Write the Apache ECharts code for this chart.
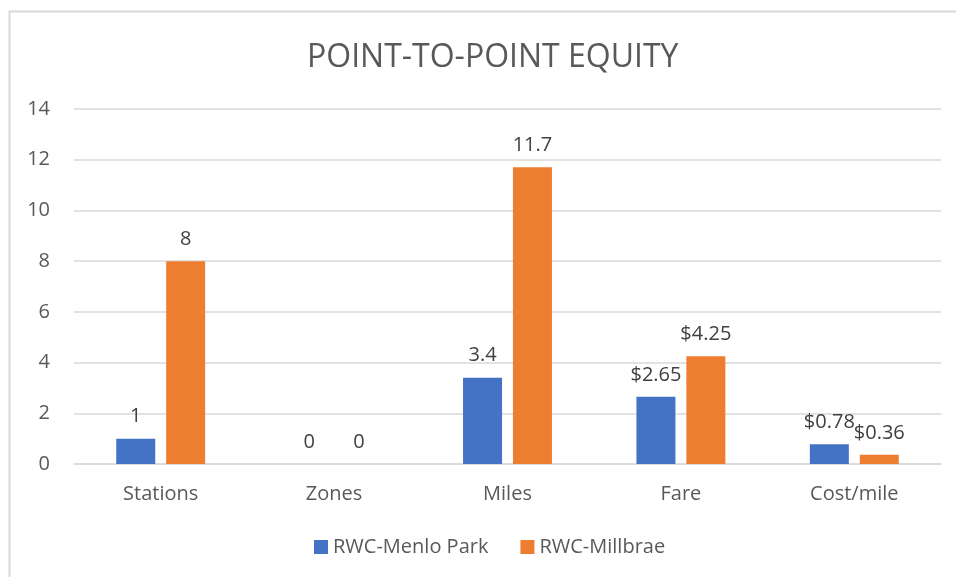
<!DOCTYPE html>
<html>
<head>
<meta charset="utf-8">
<script src="https://cdn.jsdelivr.net/npm/echarts@6/dist/echarts.min.js"></script>
<style>
  html, body { margin: 0; padding: 0; background: #fff; }
  #chart { width: 956px; height: 577px; }
</style>
</head>
<body>
<div id="chart"></div>
<script>
// chart data
const categories = ['Stations', 'Zones', 'Miles', 'Fare', 'Cost/mile'];
const menloPark = [1, 0, 3.4, 2.65, 0.78];
const millbrae = [8, 0, 11.7, 4.25, 0.36];
// categories whose labels are money
const moneyCats = ['Fare', 'Cost/mile'];

const fmt = (p) => {
  const v = p.value;
  if (moneyCats.includes(p.name)) return '$' + v.toFixed(2);
  return String(v);
};

const chart = echarts.init(document.getElementById('chart'));
const font = 'Open Sans, Noto Sans, sans-serif';

chart.setOption({
  animation: false,
  textStyle: { fontFamily: font },
  title: {
    text: 'POINT-TO-POINT EQUITY',
    left: 302,
    top: 37,
    textStyle: { fontSize: 32, fontWeight: 'normal', color: '#595959', fontFamily: font }
  },
  graphic: [{
    type: 'rect',
    shape: { x: 9.5, y: 11.5, width: 1000, height: 1000 },
    style: { fill: 'none', stroke: '#d9d9d9', lineWidth: 2 }
  }],
  legend: {
    bottom: 15,
    left: 309,
    itemWidth: 14,
    itemHeight: 14,
    itemGap: 32,
    icon: 'rect',
    textStyle: { fontSize: 20, color: '#595959', fontFamily: font }
  },
  grid: { left: 74, right: 15, top: 109, bottom: 113 },
  xAxis: {
    type: 'category',
    data: categories,
    axisLine: { lineStyle: { color: '#d9d9d9', width: 1.5 } },
    axisTick: { show: false },
    axisLabel: { fontSize: 20, color: '#595959', margin: 20, fontFamily: font }
  },
  yAxis: {
    type: 'value',
    min: 0,
    max: 14,
    interval: 2,
    axisLine: { show: false },
    axisTick: { show: false },
    splitLine: { lineStyle: { color: '#d9d9d9', width: 1.5 } },
    axisLabel: { fontSize: 20, color: '#595959', margin: 24, fontFamily: font }
  },
  series: [
    {
      name: 'RWC-Menlo Park',
      type: 'bar',
      data: menloPark,
      barWidth: 39,
      barGap: '28%',
      itemStyle: { color: '#4472C4' },
      label: { show: true, position: 'top', distance: 12, fontSize: 20, color: '#404040', formatter: fmt, fontFamily: font }
    },
    {
      name: 'RWC-Millbrae',
      type: 'bar',
      data: millbrae,
      barWidth: 39,
      itemStyle: { color: '#ED7D31' },
      label: { show: true, position: 'top', distance: 12, fontSize: 20, color: '#404040', formatter: fmt, fontFamily: font }
    }
  ]
});
</script>
</body>
</html>
